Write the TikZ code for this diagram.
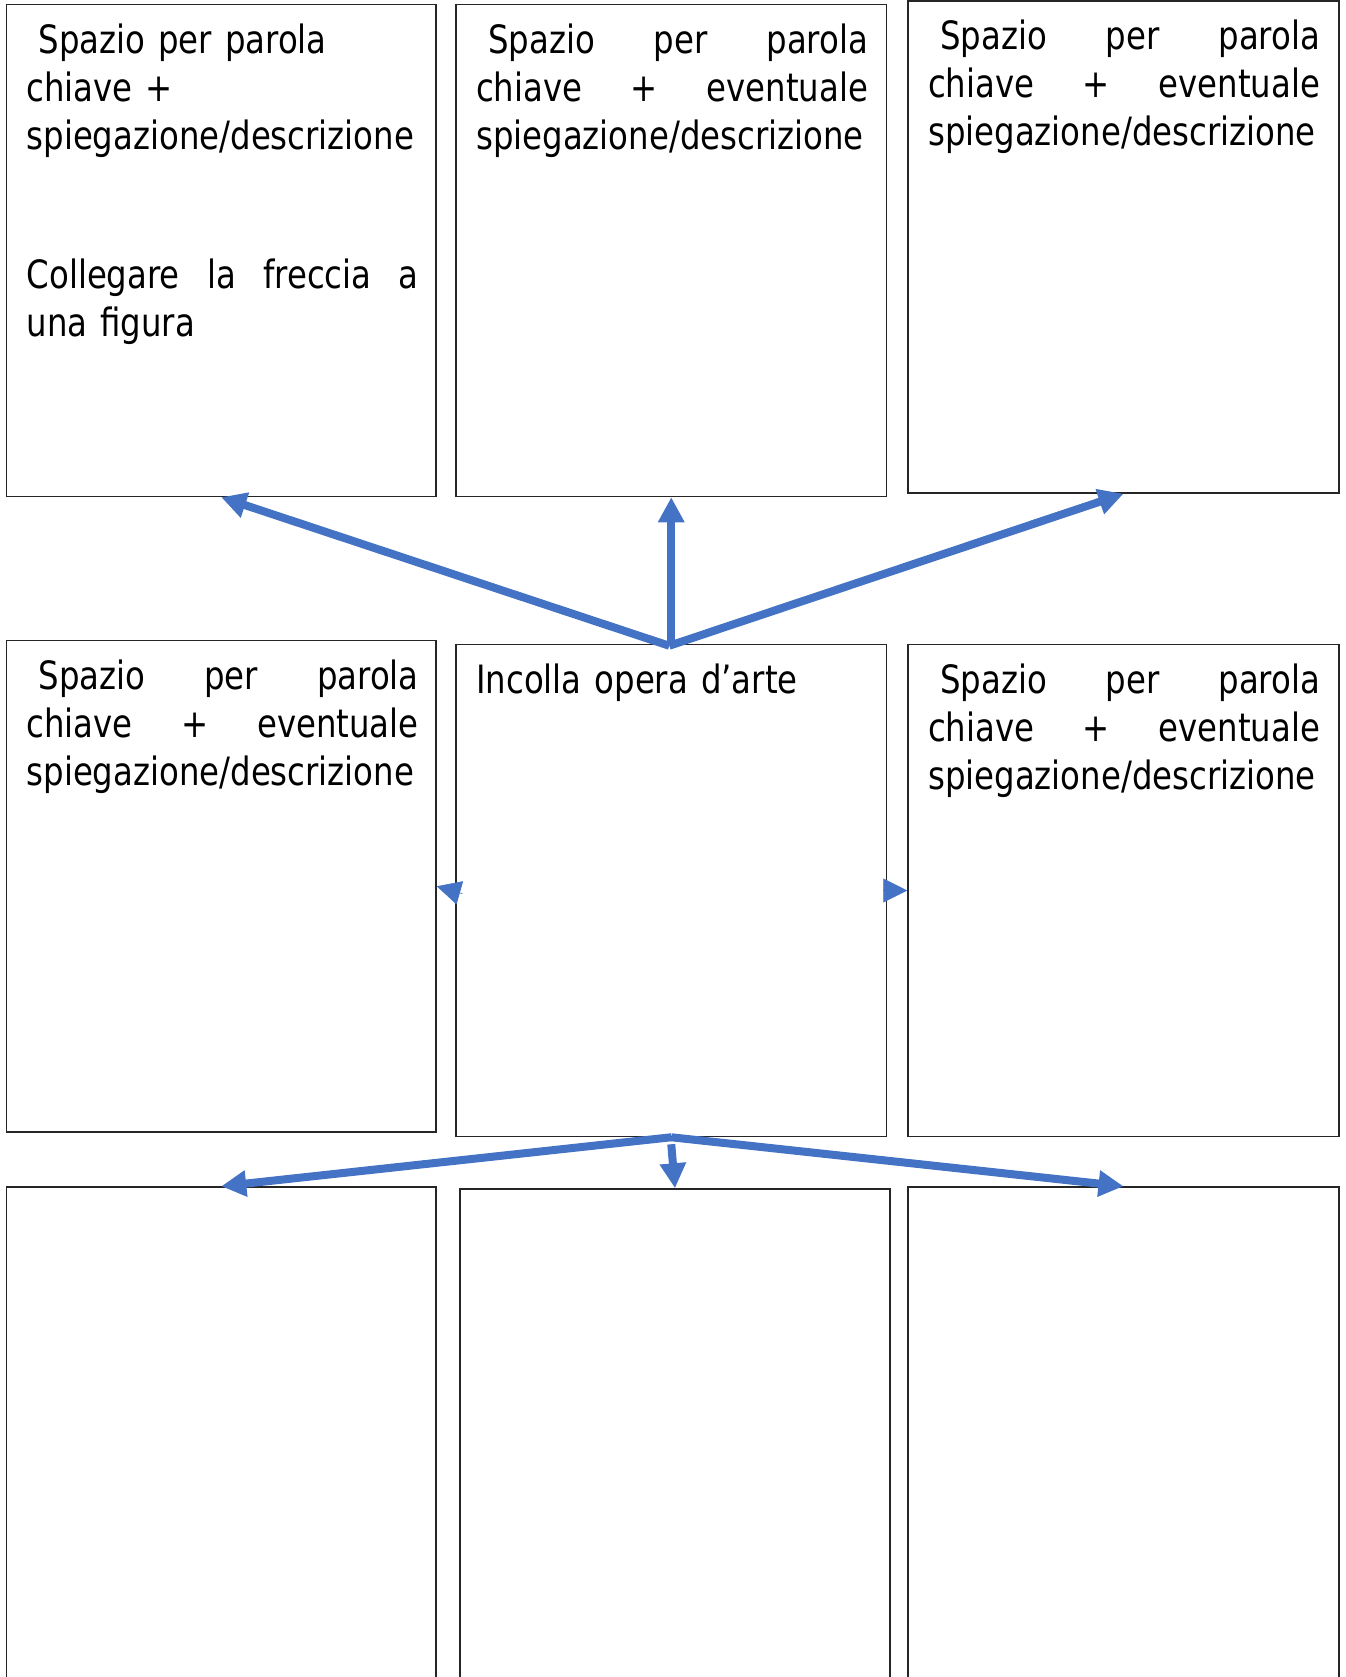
\documentclass[tikz,border=0pt]{standalone}
\usepackage{fontspec}
\setmainfont{DejaVu Sans}[FakeStretch=0.83]
\usetikzlibrary{arrows.meta,fit,calc}
\definecolor{arrblue}{RGB}{68,114,196}
\tikzset{
  frame/.style={draw=black!85, line width=0.75pt, inner sep=0pt, fill=none},
  txt/.style={inner sep=0pt, anchor=base west, text width=196pt, align=left,
    font=\fontsize{19.5pt}{24pt}\selectfont},
  arr/.style={draw=arrblue, line width=4pt,
    -{Triangle[length=12.5pt 0 1,width=12.5pt 0 1]}},
  sidearr/.style={draw=arrblue, fill=arrblue, line width=0.3pt,
    -{Triangle[length=12pt 0 1,width=12pt 0 1]}},
}
\newcommand{\jline}[1]{\leavevmode\hbox to 196pt{#1}}
\begin{document}
\begin{tikzpicture}[x=0.5pt,y=-0.5pt]
\useasboundingbox (0,0) rectangle (1345,1677);
\clip (0,0) rectangle (1345,1677);
% boxes
\node[frame, fit={(6.5,4.5) (436,496.5)}] (A) {};
\node[frame, fit={(456,4.5) (886.5,496.5)}] (B) {};
\node[frame, fit={(908,1) (1339,493)}] (C) {};
\node[frame, fit={(6.5,640.5) (436,1132)}] (D) {};
\node[frame, fit={(456,644.5) (886.5,1136.5)}] (E) {};
\node[frame, fit={(908,644.5) (1339,1136.5)}] (F) {};
\node[frame, fit={(6.5,1187) (436,1700)}] (G) {};
\node[frame, fit={(460,1189) (890,1700)}] (H) {};
\node[frame, fit={(908,1187) (1339,1700)}] (I) {};
% texts
\node[txt] (tA) at ($(A.north west)+(20.5,50)$) {\hspace*{6pt}Spazio per parola\\chiave +\\spiegazione/descrizione\\[45.5pt]\jline{Collegare\hfill la\hfill freccia\hfill a}\\una figura};
\node[txt] (tB) at ($(B.north west)+(20.5,50)$) {\jline{\hspace*{6pt}Spazio\hfill per\hfill parola}\\\jline{chiave\hfill +\hfill eventuale}\\spiegazione/descrizione};
\node[txt] (tC) at ($(C.north west)+(20.5,49)$) {\jline{\hspace*{6pt}Spazio\hfill per\hfill parola}\\\jline{chiave\hfill +\hfill eventuale}\\spiegazione/descrizione};
\node[txt] (tD) at ($(D.north west)+(20.5,50)$) {\jline{\hspace*{6pt}Spazio\hfill per\hfill parola}\\\jline{chiave\hfill +\hfill eventuale}\\spiegazione/descrizione};
\node[txt] (tE) at ($(E.north west)+(20.5,50)$) {Incolla opera d’arte};
\node[txt] (tF) at ($(F.north west)+(20.5,50)$) {\jline{\hspace*{6pt}Spazio\hfill per\hfill parola}\\\jline{chiave\hfill +\hfill eventuale}\\spiegazione/descrizione};
% connectors
\coordinate (top) at ($(E.north)+(-2,2)$);
\draw[arr] (top) -- (A.south);
\draw[arr] (E.north) -- (B.south);
\draw[arr] (top) -- (C.south);
\draw[sidearr] ($(E.west)+(7,3)$) -- (D.east);
\draw[sidearr] ($(E.east)+(-4,0)$) -- (F.west);
\draw[arr] (E.south) -- (G.north);
\draw[arr] ($(E.south)+(0,7)$) -- (H.north);
\draw[arr] (E.south) -- (I.north);
\end{tikzpicture}
\end{document}
